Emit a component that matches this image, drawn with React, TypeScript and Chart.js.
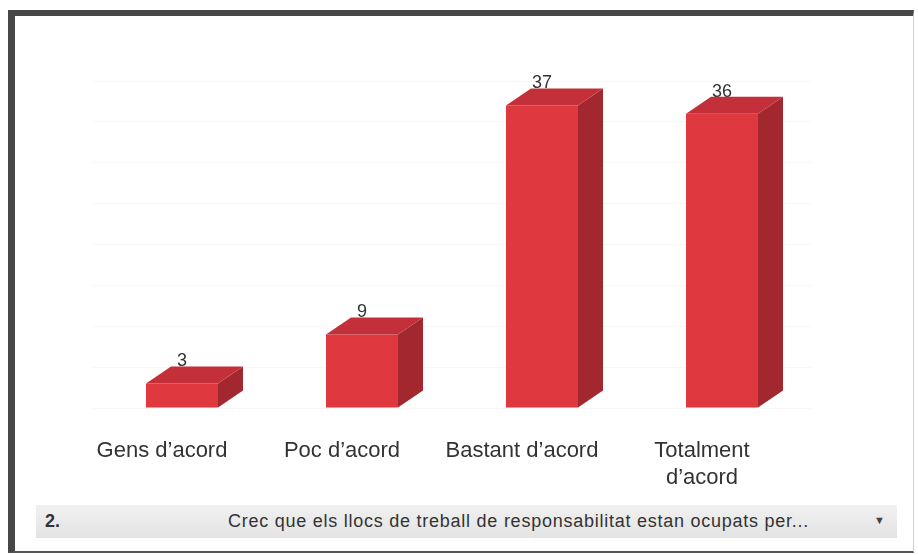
import React, { useEffect, useRef } from "react";
import { Chart, registerables } from "chart.js";

Chart.register(...registerables);

const categories: (string | string[])[] = ["Gens d’acord", "Poc d’acord", "Bastant d’acord", ["Totalment", "d’acord"]];
const values: number[] = [3, 9, 37, 36];
const questionNumber = "2.";
const questionText = "Crec que els llocs de treball de responsabilitat estan ocupats per...";

const FRONT = "#e0383f";
const TOP = "#c4303a";
const SIDE = "#a3272e";
const DX = 25;
const DY = -17;

const box3d = {
  id: "box3d",
  afterDatasetsDraw(chart: any) {
    const ctx = chart.ctx;
    const meta = chart.getDatasetMeta(0);
    meta.data.forEach((bar: any, i: number) => {
      const { x, y, base, width } = bar.getProps(["x", "y", "base", "width"], true);
      const l = x - width / 2;
      const r = x + width / 2;
      ctx.save();
      ctx.fillStyle = "#333";
      ctx.font = "18px 'Liberation Sans', Arial, sans-serif";
      ctx.textAlign = "center";
      ctx.textBaseline = "middle";
      ctx.fillText(String(values[i]), x, y - 22);
      ctx.restore();
      ctx.save();
      ctx.fillStyle = SIDE;
      ctx.beginPath();
      ctx.moveTo(r, y);
      ctx.lineTo(r + DX, y + DY);
      ctx.lineTo(r + DX, base + DY);
      ctx.lineTo(r, base);
      ctx.closePath();
      ctx.fill();
      ctx.fillStyle = TOP;
      ctx.beginPath();
      ctx.moveTo(l, y);
      ctx.lineTo(l + DX, y + DY);
      ctx.lineTo(r + DX, y + DY);
      ctx.lineTo(r, y);
      ctx.closePath();
      ctx.fill();
      ctx.restore();
    });
  },
};

function BarChart() {
  const ref = useRef<HTMLCanvasElement>(null);
  useEffect(() => {
    if (!ref.current) return;
    const chart = new Chart(ref.current, {
      type: "bar",
      data: {
        labels: categories,
        datasets: [
          {
            data: values,
            backgroundColor: FRONT,
            borderWidth: 0,
            barPercentage: 0.4,
            categoryPercentage: 1,
          },
        ],
      },
      options: {
        animation: false,
        responsive: false,
        maintainAspectRatio: false,
        layout: { padding: { left: 92, right: 106, top: 81, bottom: 34 } },
        plugins: { legend: { display: false }, tooltip: { enabled: false } },
        scales: {
          x: {
            grid: { display: false, drawTicks: false },
            border: { display: false },
            ticks: {
              color: "#333",
              font: { size: 22, family: "'Liberation Sans', Arial, sans-serif", lineHeight: 1.25 },
              padding: 29,
              labelOffset: -20,
              maxRotation: 0,
              autoSkip: false,
            },
          },
          y: {
            min: 0,
            max: 40,
            ticks: { display: false, stepSize: 5 },
            grid: { color: "#f8f8f8", drawTicks: false },
            border: { display: false },
          },
        },
      },
      plugins: [box3d],
    });
    return () => chart.destroy();
  }, []);
  return <canvas ref={ref} width={918} height={555} style={{ position: "absolute", left: 0, top: 0 }} />;
}

export default function App() {
  return (
    <div style={{ position: "fixed", left: 0, top: 0, width: 918, height: 555, background: "#fff", overflow: "hidden" }}>
      <div
        style={{
          position: "absolute",
          left: 8,
          top: 10,
          width: 906,
          height: 543,
          boxSizing: "border-box",
          borderTop: "6px solid #474747",
          borderLeft: "7px solid #474747",
          borderBottom: "2px solid #555",
          borderRight: "1px solid #d0d0d0",
        }}
      />
      <BarChart />
      <div
        style={{
          position: "absolute",
          left: 36,
          top: 505,
          width: 861,
          height: 33,
          background: "linear-gradient(#f1f1f1, #e3e3e3)",
          fontFamily: "'Liberation Sans', Arial, sans-serif",
          color: "#333",
        }}
      >
        <span style={{ position: "absolute", left: 9, top: 6, fontSize: 18, fontWeight: "bold" }}>{questionNumber}</span>
        <span style={{ position: "absolute", left: 192, top: 6, fontSize: 18, letterSpacing: 0.75, whiteSpace: "nowrap" }}>{questionText}</span>
        <span style={{ position: "absolute", left: 838, top: 9, fontSize: 11, color: "#444" }}>▼</span>
      </div>
    </div>
  );
}
